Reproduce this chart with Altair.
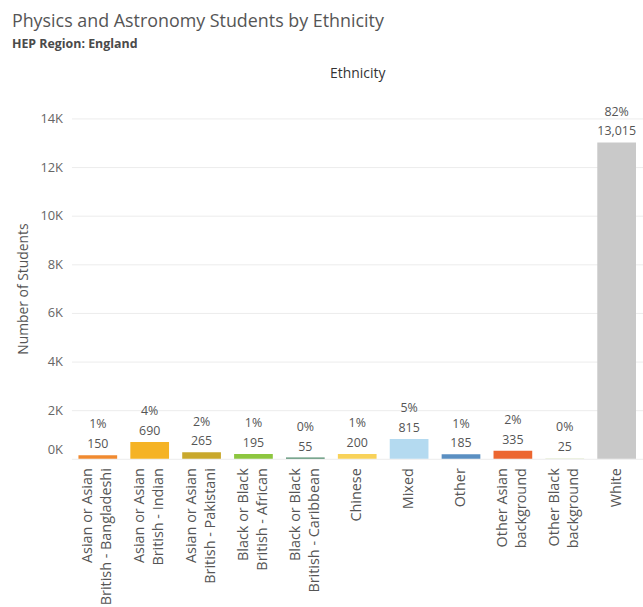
import altair as alt
import pandas as pd

# Physics and Astronomy student headcounts by ethnicity, HEP region England
ethnicity = [
    "Asian or Asian|British - Bangladeshi",
    "Asian or Asian|British - Indian",
    "Asian or Asian|British - Pakistani",
    "Black or Black|British - African",
    "Black or Black|British - Caribbean",
    "Chinese",
    "Mixed",
    "Other",
    "Other Asian|background",
    "Other Black|background",
    "White",
]
students = [150, 690, 265, 195, 55, 200, 815, 185, 335, 25, 13015]
percent = [1, 4, 2, 1, 0, 1, 5, 1, 2, 0, 82]
colors = [
    "#F08A30", "#F5B325", "#C9A82C", "#8DC63F", "#4F8A6B", "#F8D25A",
    "#B4DAF0", "#5A8FC2", "#EC6630", "#DDE7C7", "#C9C9C9",
]
y_ticks = [0, 2000, 4000, 6000, 8000, 10000, 12000, 14000]

df = pd.DataFrame({"eth": ethnicity, "n": students, "pct": percent})

FONT = "Open Sans"

x_scale = alt.Scale(domain=ethnicity, paddingInner=0.254, paddingOuter=0.135)
y_scale = alt.Scale(domain=[0, 14000], nice=False)

y_axis = alt.Axis(
    title="Number of Students", values=y_ticks,
    labelExpr="(datum.value / 1000) + 'K'",
    # keep the bottom label inside the pane
    labelOffset={"condition": {"test": "datum.value == 0", "value": -9}, "value": 0},
    ticks=False, domain=False, gridColor="#ececec",
    labelColor="#666", labelFontSize=13, labelPadding=9,
    titleColor="#555", titleFontSize=14, titleFontWeight="normal",
    titlePadding=9, labelFont=FONT, titleFont=FONT,
)

bars = alt.Chart(df).mark_bar().encode(
    x=alt.X("eth:N", sort=None, scale=x_scale,
            axis=alt.Axis(title=None, labelAngle=-90, labelAlign="right",
                          labelBaseline="middle",
                          labelExpr="split(datum.label, '|')",
                          # centre two-line labels on their bar
                          labelOffset={"condition": {"test": "indexof(datum.value, '|') >= 0", "value": -9.5}, "value": 0},
                          labelLineHeight=19, labelFontSize=14.5,
                          labelColor="#555", labelPadding=9, ticks=False,
                          domain=False, grid=False, labelFont=FONT,
                          labelLimit=300)),
    y=alt.Y("n:Q", scale=y_scale, axis=y_axis),
    color=alt.Color("eth:N", sort=None, scale=alt.Scale(domain=ethnicity, range=colors), legend=None),
)

labels = alt.Chart(df).transform_calculate(
    lbl="[datum.pct + '%', format(datum.n, ',')]"
).mark_text(baseline="bottom", dy=-24, fontSize=12.5, color="#555",
            lineHeight=20, font=FONT).encode(
    x=alt.X("eth:N", sort=None, scale=x_scale, axis=None),
    y=alt.Y("n:Q", scale=y_scale, axis=y_axis),
    text="lbl:N",
)

header = alt.Chart(df).mark_bar(opacity=0).encode(
    x=alt.X("eth:N", sort=None, scale=x_scale,
            axis=alt.Axis(orient="top", title="Ethnicity", labels=False, ticks=False,
                          domain=False, grid=False, titleFontWeight="normal",
                          titleFontSize=14, titleColor="#333", titleFont=FONT,
                          titlePadding=38)),
    y=alt.Y("n:Q", scale=y_scale, axis=y_axis),
)

chart = alt.layer(bars, labels, header).resolve_axis(x="independent").properties(
    width=576,
    height=343,
    autosize=alt.AutoSizeParams(type="none"),
    padding={"left": 72, "top": 117, "right": 0, "bottom": 150},
    title=alt.TitleParams(
        text="Physics and Astronomy Students by Ethnicity",
        subtitle="HEP Region: England",
        anchor="start", frame="group", dx=-60, dy=-7, offset=10,
        font=FONT, fontSize=18, fontWeight="normal", color="#555",
        subtitleFont=FONT, subtitleFontSize=12.5, subtitleFontWeight="bold",
        subtitleColor="#4a4a4a", subtitlePadding=7,
    ),
).configure_view(stroke=None)

chart.save("out.html", embed_options={"renderer": "svg", "actions": False})
